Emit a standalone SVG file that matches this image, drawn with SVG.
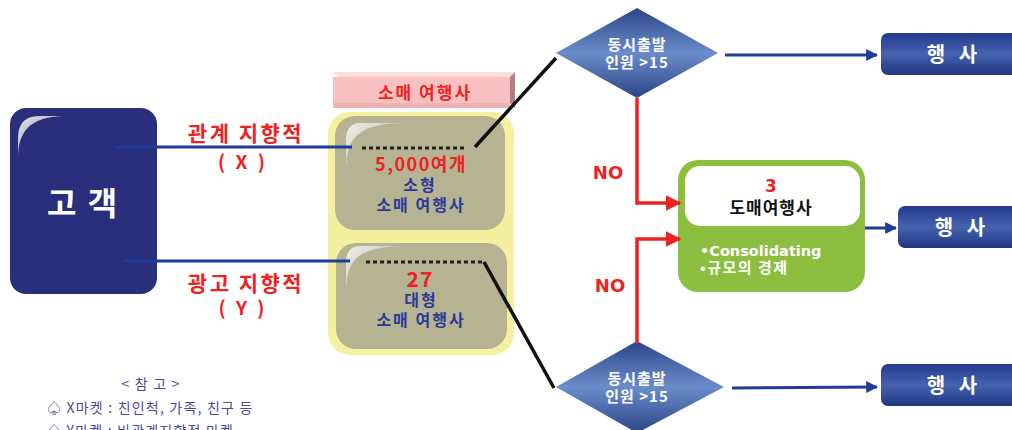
<svg xmlns="http://www.w3.org/2000/svg" width="1012" height="430" viewBox="0 0 1012 430">
<defs>
<style>
text{font-family:"Noto Sans CJK KR","Noto Sans",sans-serif;text-anchor:middle}
.red{fill:#ee2222;font-weight:bold}
.blu{fill:#2b3a96;font-weight:bold}
.wht{fill:#ffffff;font-weight:bold}
.note{fill:#4a4a9a;font-size:14px;text-anchor:start;letter-spacing:1.2px}
.dv{font-family:"DejaVu Sans","Noto Sans CJK KR",sans-serif}
.bl{stroke:#1f3c96;stroke-width:3;fill:none}
.rl{stroke:#ee2222;stroke-width:3.5;fill:none}
.kl{stroke:#111;stroke-width:3.5;fill:none}
.dot{stroke:#222;stroke-width:3;stroke-dasharray:4 3;fill:none}
</style>
<linearGradient id="dia" x1="0" y1="0" x2="0" y2="1">
<stop offset="0" stop-color="#2c4587"/><stop offset="0.5" stop-color="#6b8cca"/><stop offset="1" stop-color="#2c4587"/>
</linearGradient>
<linearGradient id="evt" x1="0" y1="0" x2="0" y2="1">
<stop offset="0" stop-color="#243a8c"/><stop offset="0.5" stop-color="#4562b0"/><stop offset="1" stop-color="#223681"/>
</linearGradient>
<linearGradient id="gloss" x1="0" y1="0" x2="1" y2="1">
<stop offset="0" stop-color="#ffffff"/><stop offset="1" stop-color="#9a9a9a"/>
</linearGradient>
<marker id="ab" viewBox="0 0 10 10" refX="9" refY="5" markerWidth="4" markerHeight="4" orient="auto"><path d="M0,0L10,5L0,10z" fill="#1f3c96"/></marker>
<marker id="ar" viewBox="0 0 10 10" refX="9" refY="5" markerWidth="4.5" markerHeight="4.5" orient="auto"><path d="M0,0L10,5L0,10z" fill="#ee2222"/></marker>
</defs>

<g id="customer">
<rect x="10" y="108" width="147" height="186" rx="16" fill="#2a2f7d"/>
<path d="M18,160 C18,130 30,118 62,116 L40,116 C24,116 18,124 18,140 Z" fill="url(#gloss)" opacity="0.85"/>
<text x="83" y="215" class="wht" font-size="32" letter-spacing="2">고 객</text>
</g>

<g id="labels">
<text x="246" y="141" class="red" font-size="21" letter-spacing="2.5">관계 지향적</text>
<text x="243" y="169" class="red" font-size="19" letter-spacing="3">( X )</text>
<text x="246" y="291" class="red" font-size="21" letter-spacing="2.5">광고 지향적</text>
<text x="243" y="315" class="red" font-size="19" letter-spacing="3">( Y )</text>
</g>

<g id="retail-header">
<polygon points="333,72 515,72 510,77 338,77" fill="#fbe0e0"/>
<polygon points="510,77 515,72 515,108 510,103" fill="#b08080"/>
<rect x="333" y="77" width="177" height="31" fill="#f8c0c0"/>
<polygon points="333,108 510,108 510,103 333,103" fill="#e8a8a8" opacity="0.6"/>
<text x="425" y="99" class="red" font-size="17" letter-spacing="2">소매 여행사</text>
</g>

<g id="retail">
<rect x="328" y="112" width="186" height="243" rx="22" fill="#f5f0a0"/>
</g>

<g id="small-retail">
<rect x="335" y="116" width="170" height="114" rx="20" fill="#b5b392"/>
<path d="M346,180 C346,140 352,124 405,123 L360,123 C350,123 346,130 346,140 Z" fill="url(#gloss)" opacity="0.8"/>
<text x="421" y="171" class="red" font-size="18" letter-spacing="1.5">5,000여개</text>
<text x="420" y="191" class="blu" font-size="16" letter-spacing="2">소형</text>
<text x="421" y="211" class="blu" font-size="16" letter-spacing="2">소매 여행사</text>
</g>

<g id="large-retail">
<rect x="336" y="243" width="171" height="106" rx="20" fill="#b5b392"/>
<path d="M346,300 C346,262 352,248 402,246 L360,246 C350,246 346,253 346,262 Z" fill="url(#gloss)" opacity="0.8"/>
<text x="420" y="287" class="red" font-size="21" letter-spacing="1">27</text>
<text x="421" y="306" class="blu" font-size="16" letter-spacing="2">대형</text>
<text x="421" y="326" class="blu" font-size="16" letter-spacing="2">소매 여행사</text>
</g>

<g id="decision-top">
<polygon points="637,8 718,53 637,98 556,53" fill="url(#dia)"/>
<text x="637" y="50" class="wht" font-size="15" font-weight="normal" letter-spacing="1">동시출발</text>
<text x="637" y="68" class="wht" font-size="15" font-weight="normal" letter-spacing="1">인원 <tspan font-weight="bold">&gt;15</tspan></text>
</g>

<g id="decision-bottom">
<polygon points="637,341 724,387 637,433 556,387" fill="url(#dia)"/>
<text x="637" y="384" class="wht" font-size="15" font-weight="normal" letter-spacing="1">동시출발</text>
<text x="637" y="402" class="wht" font-size="15" font-weight="normal" letter-spacing="1">인원 <tspan font-weight="bold">&gt;15</tspan></text>
</g>

<g id="wholesale">
<rect x="678" y="160" width="187" height="132" rx="20" fill="#8cbf3f"/>
<rect x="685" y="166" width="175" height="60" rx="15" fill="#ffffff"/>
<text x="771" y="192" class="red dv" font-size="17">3</text>
<text x="771" y="214" fill="#111" font-weight="bold" font-size="17" letter-spacing="1">도매여행사</text>
<text x="700" y="256" class="wht dv" font-size="14.5" style="text-anchor:start">•Consolidating</text>
<text x="700" y="273" class="wht" font-size="15" font-weight="normal" letter-spacing="1.5" style="text-anchor:start">•규모의 경제</text>
</g>

<g id="event-top">
<rect x="881" y="33" width="140" height="42" rx="7" fill="url(#evt)"/>
<text x="952" y="62" class="wht" font-size="20">행&#160;&#160;&#160;사</text>
</g>
<g id="event-mid">
<rect x="898" y="206" width="124" height="42" rx="7" fill="url(#evt)"/>
<text x="960" y="235" class="wht" font-size="20">행&#160;&#160;&#160;사</text>
</g>
<g id="event-bottom">
<rect x="881" y="364" width="140" height="42" rx="7" fill="url(#evt)"/>
<text x="952" y="393" class="wht" font-size="20">행&#160;&#160;&#160;사</text>
</g>

<g id="connectors">
<line x1="116" y1="147" x2="352" y2="147" class="bl"/>
<line x1="124" y1="261" x2="350" y2="261" class="bl"/>
<line x1="362" y1="148" x2="466" y2="148" class="dot"/>
<line x1="366" y1="262" x2="484" y2="262" class="dot"/>
<line x1="475" y1="147" x2="556" y2="58" class="kl"/>
<line x1="484" y1="262" x2="554" y2="388" class="kl"/>
<line x1="725" y1="55" x2="877" y2="55" class="bl" marker-end="url(#ab)"/>
<line x1="865" y1="228" x2="896" y2="228" class="bl" marker-end="url(#ab)"/>
<line x1="732" y1="388" x2="877" y2="387" class="bl" marker-end="url(#ab)"/>
<polyline points="637,98 637,203 680,203" class="rl" marker-end="url(#ar)"/>
<polyline points="637,343 637,239 680,239" class="rl" marker-end="url(#ar)"/>
<text x="608" y="179" class="red dv" font-size="18" font-weight="900">NO</text>
<text x="610" y="292" class="red dv" font-size="18" font-weight="900">NO</text>
</g>

<g id="notes">
<text x="151" y="389" class="note" style="text-anchor:middle">&lt; 참 고 &gt;</text>
<text x="47" y="413" class="note">♤ X마켓 : 친인척, 가족, 친구 등</text>
<text x="47" y="436" class="note">♤ Y마켓 : 비관계지향적 마켓</text>
</g>
</svg>
